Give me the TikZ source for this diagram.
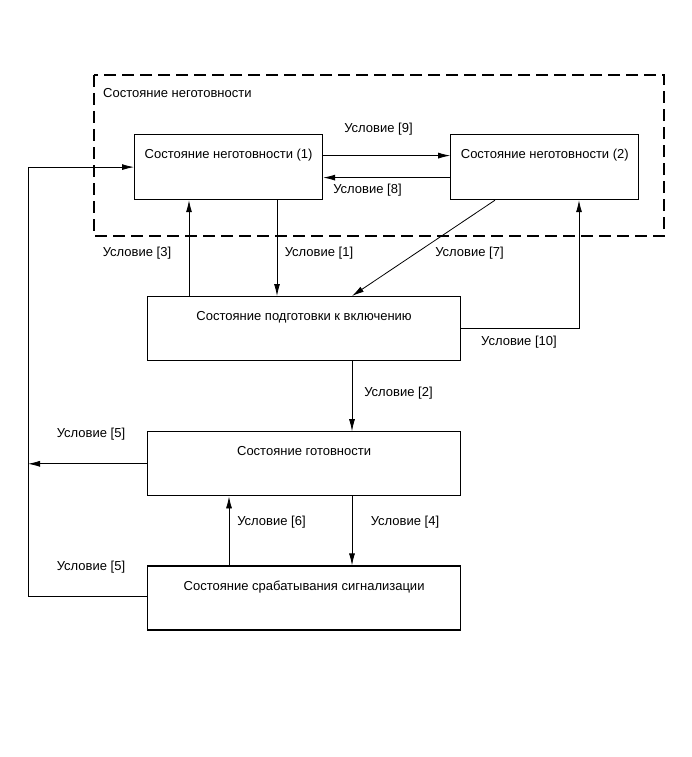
\documentclass[tikz,border=0pt]{standalone}
\usepackage{fontspec}
\setmainfont{Liberation Sans}
\usetikzlibrary{positioning,arrows.meta}

\begin{document}
\begin{tikzpicture}[
        x=1pt, y=-1pt,
        font=\fontsize{13}{15}\selectfont,
        state/.style={draw, line width=1.2pt, inner sep=0pt, text height=24pt, text depth=40pt, minimum width=313pt},
        substate/.style={state, minimum width=188pt, text depth=41pt},
        cond/.style={inner sep=0pt},
        link/.style={line width=0.8pt},
        >={Latex[length=12pt,width=6pt]}
    ]
        \useasboundingbox (0,0) rectangle (691,757);

        % Group frame
        \draw[line width=1.1pt, dash pattern=on 12pt off 6pt] (94,75) rectangle (664,236);
        \node[cond, anchor=west] (grp) at (103,93) {Состояние неготовности};

        % Sub-states
        \node[substate, anchor=north west] (nr1) at (134,134) {Состояние неготовности (1)};
        \node[substate, right=127pt of nr1] (nr2) {Состояние неготовности (2)};

        % Main states
        \node[state, anchor=north west] (prep) at (147,296) {Состояние подготовки к включению};
        \node[state, below=70pt of prep] (ready) {Состояние готовности};
        \node[state, below=69pt of ready] (alarm) {Состояние срабатывания сигнализации};

        % Helper coordinates
        \coordinate (x3) at (189,0);
        \coordinate (x1) at (277,0);
        \coordinate (x2) at (352,0);
        \coordinate (x6) at (229,0);
        \coordinate (x7) at (495,0);
        \coordinate (x10) at (579,0);
        \coordinate (bus) at (28,0);

        % Arrows
        \draw[link, ->] ([yshift=11.5pt]nr1.east) -- ([yshift=11.5pt]nr2.west);
        \draw[link, ->] ([yshift=-10.5pt]nr2.west) -- ([yshift=-10.5pt]nr1.east);
        \draw[link, ->] (prep.north -| x3) -- (nr1.south -| x3);
        \draw[link, ->] (nr1.south -| x1) -- (prep.north -| x1);
        \draw[link, ->] (nr2.south -| x7) -- (prep.north -| x2);
        \draw[link, ->] (prep.east) -| (nr2.south -| x10);
        \draw[link, ->] (prep.south -| x2) -- (ready.north -| x2);
        \draw[link, ->] (ready.west) -- (ready.west -| bus);
        \draw[link, ->] (alarm.north -| x6) -- (ready.south -| x6);
        \draw[link, ->] (ready.south -| x2) -- (alarm.north -| x2);
        \draw[link, ->] ([yshift=2pt]alarm.west) -| (bus |- nr1.west) -- (nr1.west);

        % Conditions
        \node[cond] (c9) at (378.5,129) {Условие [9]};
        \node[cond] (c8) at (367.5,190) {Условие [8]};
        \node[cond] (c3) at (137,253) {Условие [3]};
        \node[cond] (c1) at (319,253) {Условие [1]};
        \node[cond] (c7) at (469.5,253) {Условие [7]};
        \node[cond] (c10) at (519,342) {Условие [10]};
        \node[cond] (c2) at (398.5,393) {Условие [2]};
        \node[cond] (c5a) at (91,434) {Условие [5]};
        \node[cond] (c6) at (271.5,522) {Условие [6]};
        \node[cond] (c4) at (405,522) {Условие [4]};
        \node[cond] (c5b) at (91,567) {Условие [5]};
    \end{tikzpicture}
\end{document}
